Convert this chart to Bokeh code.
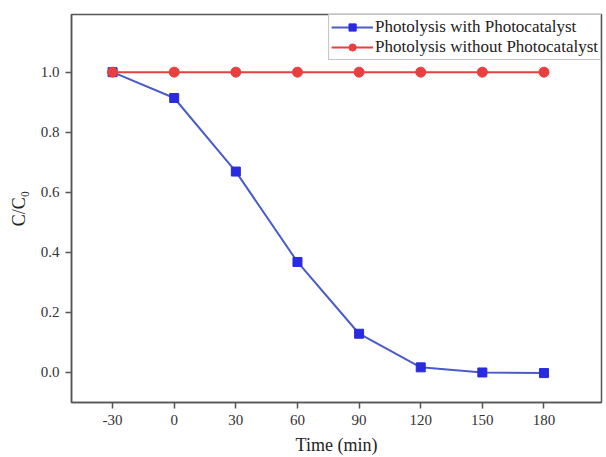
from bokeh.plotting import figure
from bokeh.models import FixedTicker, NumeralTickFormatter, Range1d, Legend, LegendItem
from bokeh.embed import file_html
from bokeh.resources import INLINE

time_min = [-30, 0, 30, 60, 90, 120, 150, 180]
with_catalyst = [1.0, 0.914, 0.669, 0.368, 0.129, 0.017, 0.0, -0.002]
without_catalyst = [1.0, 1.0, 1.0, 1.0, 1.0, 1.0, 1.0, 1.0]
x_ticks = [-30, 0, 30, 60, 90, 120, 150, 180]
y_ticks = [0.0, 0.2, 0.4, 0.6, 0.8, 1.0]

FONT = "Liberation Serif"

p = figure(width=606, height=457, output_backend="svg", toolbar_location=None,
           x_range=Range1d(-50, 208), y_range=Range1d(-0.1, 1.192),
           min_border_left=71, min_border_right=5, min_border_top=14, min_border_bottom=53)
p.xgrid.visible = False
p.ygrid.visible = False
p.outline_line_color = "#555555"
p.outline_line_width = 1.5

blue_line = "#4a5cc8"
blue_mark = "#2a2ae0"
red = "#e8403f"

l1 = p.line(time_min, with_catalyst, line_color=blue_line, line_width=2)
s1 = p.scatter(time_min, with_catalyst, marker="square", size=9, fill_color=blue_mark, line_color=blue_mark)
l2 = p.line(time_min, without_catalyst, line_color=red, line_width=2)
s2 = p.scatter(time_min, without_catalyst, marker="circle", size=10, fill_color=red, line_color=red)

legend = Legend(items=[
    LegendItem(label="Photolysis with Photocatalyst", renderers=[l1, s1]),
    LegendItem(label="Photolysis without Photocatalyst", renderers=[l2, s2]),
], location="top_right")
legend.margin = 0
legend.padding = 2
legend.spacing = 0
legend.glyph_width = 42
legend.glyph_height = 18
legend.label_height = 18
legend.label_standoff = 2
legend.label_text_font = FONT
legend.label_text_font_size = "17px"
legend.label_text_color = "#222222"
legend.border_line_color = "#888888"
legend.border_line_width = 1
legend.background_fill_alpha = 1.0
p.add_layout(legend)

for ax in (p.xaxis[0], p.yaxis[0]):
    ax.axis_line_color = "#555555"
    ax.axis_line_width = 1.5
    ax.major_tick_line_color = "#555555"
    ax.major_tick_line_width = 1.5
    ax.major_tick_out = 6
    ax.major_tick_in = 0
    ax.minor_tick_line_color = None
    ax.major_label_text_font = FONT
    ax.major_label_text_font_size = "15px"
    ax.major_label_text_color = "#333333"
    ax.axis_label_text_font = FONT
    ax.axis_label_text_font_size = "18px"
    ax.axis_label_text_font_style = "normal"
    ax.axis_label_text_color = "#222222"

p.xaxis.ticker = FixedTicker(ticks=x_ticks)
p.yaxis.ticker = FixedTicker(ticks=y_ticks)
p.xaxis.formatter = NumeralTickFormatter(format="0")
p.yaxis.formatter = NumeralTickFormatter(format="0.0")
p.xaxis.axis_label = "Time (min)"
p.yaxis.axis_label = "C/C\u2080"
p.xaxis.major_label_standoff = 6
p.yaxis.major_label_standoff = 6
p.xaxis.axis_label_standoff = 7
p.yaxis.axis_label_standoff = 9

open("out.html", "w").write(file_html(p, INLINE))
